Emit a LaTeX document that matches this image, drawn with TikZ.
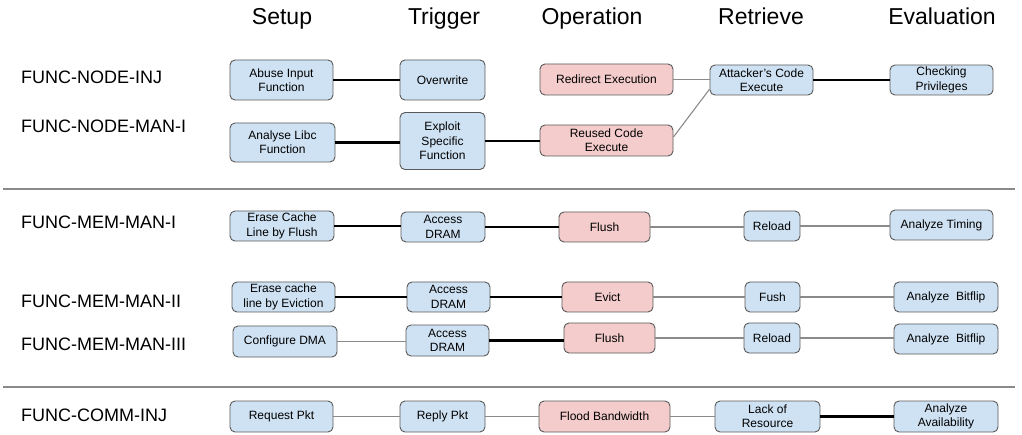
\documentclass[tikz,border=0pt]{standalone}
\usepackage{fontspec}
\setmainfont{Liberation Sans}
\definecolor{cblue}{HTML}{CFE2F3}
\definecolor{cred}{HTML}{F4CCCC}
\definecolor{cedge}{HTML}{595959}
\definecolor{cgrey}{HTML}{8A8A8A}

\begin{document}
\begin{tikzpicture}[x=1pt, y=-1pt, every node/.style={font=\fontsize{12}{14.3}\selectfont},
    box/.style={draw=cedge, line width=0.9pt, rounded corners=5pt, align=center, inner sep=0pt},
    bbox/.style={box, fill=cblue},
    rbox/.style={box, fill=cred},
    head/.style={anchor=base, inner sep=0pt, font=\fontsize{23}{27}\selectfont},
    rowlabel/.style={anchor=base west, inner sep=0pt, font=\fontsize{18}{21}\selectfont},
    boldlink/.style={line width=2.4pt},
    midlink/.style={line width=1.4pt},
    thinlink/.style={cgrey, line width=1.1pt}]
      \useasboundingbox (0,0) rectangle (1022,435);
      % column heads
      \node[head] (hsetup) at (282,25) {Setup};
      \node[head] (htrigger) at (444,25) {Trigger};
      \node[head] (hoperation) at (592,25) {Operation};
      \node[head] (hretrieve) at (761,25) {Retrieve};
      \node[head] (heval) at (942,25) {Evaluation};
      % row names
      \node[rowlabel] (lnodeinj) at (21,84) {FUNC-NODE-INJ};
      \node[rowlabel] (lnodeman) at (21,133) {FUNC-NODE-MAN-I};
      \node[rowlabel] (lmemone) at (21,229) {FUNC-MEM-MAN-I};
      \node[rowlabel] (lmemtwo) at (21,308) {FUNC-MEM-MAN-II};
      \node[rowlabel] (lmemthree) at (21,351) {FUNC-MEM-MAN-III};
      \node[rowlabel] (lcomm) at (21,421) {FUNC-COMM-INJ};
      \draw[cgrey, line width=1.2pt] (3,189) -- (1015,189);
      \draw[cgrey, line width=1.2pt] (3,387) -- (1015,387);
      % node injection / manipulation
      \node[bbox, minimum width=103pt, minimum height=40pt] (abuse) at (281.5,80) {Abuse Input\\Function};
      \node[bbox, minimum width=85pt, minimum height=40pt] (overwrite) at (442.5,80) {Overwrite};
      \node[rbox, minimum width=133pt, minimum height=31pt] (redirect) at (606.5,79.5) {Redirect Execution};
      \node[bbox, minimum width=103pt, minimum height=30pt] (attacker) at (761.5,80) {Attacker’s Code\\Execute};
      \node[bbox, minimum width=103pt, minimum height=30pt] (checking) at (941.5,80) {Checking\\Privileges};
      \node[bbox, minimum width=105pt, minimum height=39pt] (analyse) at (282.5,142.5) {Analyse Libc\\Function};
      \node[bbox, minimum width=85pt, minimum height=57pt] (exploit) at (442.5,141) {Exploit\\Specific\\Function};
      \node[rbox, minimum width=133pt, minimum height=31pt] (reused) at (606.5,140.5) {Reused Code\\Execute};
      % memory manipulation
      \node[bbox, minimum width=104pt, minimum height=30pt] (eraseflush) at (282,226) {Erase Cache\\Line by Flush};
      \node[bbox, minimum width=84pt, minimum height=30pt] (accessa) at (443,227) {Access\\DRAM};
      \node[rbox, minimum width=91pt, minimum height=30pt] (flusha) at (604.5,227) {Flush};
      \node[bbox, minimum width=56pt, minimum height=30pt] (reloada) at (772,226) {Reload};
      \node[bbox, minimum width=103pt, minimum height=30pt] (timing) at (941.5,225) {Analyze Timing};
      \node[bbox, minimum width=103pt, minimum height=30pt] (eraseevict) at (283.5,297) {Erase cache\\line by Eviction};
      \node[bbox, minimum width=83pt, minimum height=30pt] (accessb) at (448.5,297) {Access\\DRAM};
      \node[rbox, minimum width=91pt, minimum height=30pt] (evict) at (607.5,297) {Evict};
      \node[bbox, minimum width=55pt, minimum height=30pt] (fush) at (772.5,297) {Fush};
      \node[bbox, minimum width=104pt, minimum height=30pt] (bitflipa) at (946,297) {Analyze~ Bitflip};
      \node[bbox, minimum width=104pt, minimum height=31pt] (configdma) at (285,341.5) {Configure DMA};
      \node[bbox, minimum width=83pt, minimum height=31pt] (accessc) at (447.5,340.5) {Access\\DRAM};
      \node[rbox, minimum width=91pt, minimum height=30pt] (flushb) at (609.5,338) {Flush};
      \node[bbox, minimum width=56pt, minimum height=30pt] (reloadb) at (772,338) {Reload};
      \node[bbox, minimum width=104pt, minimum height=30pt] (bitflipb) at (946,339) {Analyze~ Bitflip};
      % communication injection
      \node[bbox, minimum width=103pt, minimum height=31pt] (request) at (281.5,416.5) {Request Pkt};
      \node[bbox, minimum width=85pt, minimum height=31pt] (reply) at (442.5,416.5) {Reply Pkt};
      \node[rbox, minimum width=131pt, minimum height=31pt] (flood) at (604.5,416.5) {Flood Bandwidth};
      \node[bbox, minimum width=105pt, minimum height=31pt] (lack) at (767.5,416.5) {Lack of\\Resource};
      \node[bbox, minimum width=104pt, minimum height=31pt] (avail) at (946,416.5) {Analyze\\Availability};
      % links, kept level with the box they start from
      \foreach \a/\b in {analyse/exploit, exploit/reused, eraseflush/accessa, accessa/flusha, accessc/flushb, lack/avail}
        \draw[boldlink] (\a.east) -- (\b.west |- \a.east);
      \foreach \a/\b in {abuse/overwrite, attacker/checking, eraseevict/accessb, accessb/evict}
        \draw[midlink] (\a.east) -- (\b.west |- \a.east);
      \foreach \a/\b in {redirect/attacker, flusha/reloada, reloada/timing, evict/fush, fush/bitflipa, configdma/accessc, flushb/reloadb, reloadb/bitflipb, request/reply, reply/flood, flood/lack}
        \draw[thinlink] (\a.east) -- (\b.west |- \a.east);
      \draw[thinlink] (reused.3) -- (attacker.-170);
    \end{tikzpicture}
\end{document}
